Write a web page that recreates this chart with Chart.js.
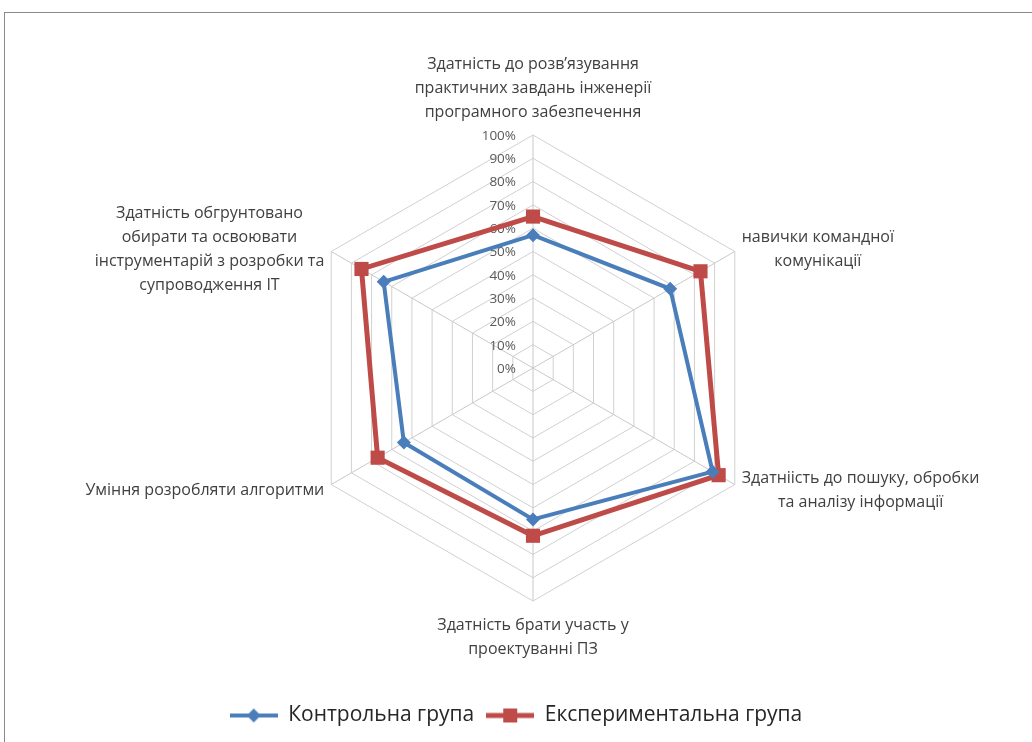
<!DOCTYPE html>
<html>
<head>
<meta charset="utf-8">
<script src="https://cdn.jsdelivr.net/npm/chart.js@4/dist/chart.umd.min.js"></script>
<style>
  html, body { margin: 0; padding: 0; background: #fff; overflow: hidden; }
  #frame { position: absolute; left: 4px; top: 12px; width: 1100px; height: 800px; border: 1px solid #8a8a8a; }
  #chart { position: absolute; left: 0; top: 0; }
</style>
</head>
<body>
<div id="frame"></div>
<canvas id="chart" width="1032" height="742"></canvas>
<script>
// axis names (clockwise from the top)
const categories = [
  ["Здатність до розв’язування", "практичних завдань інженерії", "програмного забезпечення"],
  ["навички командної", "комунікації"],
  ["Здатніість до пошуку, обробки", "та аналізу інформації"],
  ["Здатність брати участь у", "проектуванні ПЗ"],
  ["Уміння розробляти алгоритми"],
  ["Здатність обгрунтовано", "обирати та освоювати", "інструментарій з розробки та", "супроводження ІТ"]
];
const controlGroup = [57, 68, 89, 65, 64, 74];
const experimentalGroup = [65, 83, 92, 72, 77, 85];
const seriesNames = ["Контрольна група", "Експериментальна група"];
const tickValues = [0, 10, 20, 30, 40, 50, 60, 70, 80, 90, 100];

const blue = "#4a7ebb";
const red = "#be4b48";
const textFont = "'Open Sans', sans-serif";

// small picture for the legend: line with the marker in the middle
function legendSample(color, shape) {
  const c = document.createElement("canvas");
  c.width = 48; c.height = 16;
  const g = c.getContext("2d");
  g.strokeStyle = color; g.lineWidth = shape == "rect" ? 5 : 4;
  g.beginPath(); g.moveTo(0, 8); g.lineTo(48, 8); g.stroke();
  g.fillStyle = color;
  if (shape == "rect") {
    g.fillRect(17, 1, 14, 14);
  } else {
    g.beginPath(); g.moveTo(24, 1); g.lineTo(31, 8); g.lineTo(24, 15); g.lineTo(17, 8); g.closePath(); g.fill();
  }
  return c;
}
const samples = [legendSample(blue, "rectRot"), legendSample(red, "rect")];

// percent labels to the left of the top axis
const tickLabels = {
  id: "tickLabels",
  beforeDatasetsDraw(chart) {
    const s = chart.scales.r;
    const ctx = chart.ctx;
    ctx.save();
    ctx.font = "13.5px " + textFont;
    ctx.fillStyle = "#595959";
    ctx.textAlign = "right";
    ctx.textBaseline = "middle";
    tickValues.forEach(v => {
      const y = s.yCenter - s.getDistanceFromCenterForValue(v);
      ctx.fillText(v + "%", s.xCenter - 17, y + 1);
    });
    ctx.restore();
  }
};

// category labels placed like Excel does (side labels centred on the spoke end)
const axisLabels = {
  id: "axisLabels",
  afterDraw(chart) {
    const s = chart.scales.r;
    const ctx = chart.ctx;
    const lh = 24;
    ctx.save();
    ctx.font = "16px " + textFont;
    ctx.fillStyle = "#404040";
    ctx.textBaseline = "middle";
    ctx.textAlign = "center";
    categories.forEach((lines, i) => {
      const deg = Math.round(s.getIndexAngle(i) * 180 / Math.PI) % 360;
      const w = Math.max(...lines.map(l => ctx.measureText(l).width));
      const h = lines.length * lh;
      let cx, top;
      if (deg == 0) {
        const p = s.getPointPosition(i, s.drawingArea + 11);
        cx = p.x; top = p.y - h;
      } else if (deg == 180) {
        const p = s.getPointPosition(i, s.drawingArea + 12);
        cx = p.x; top = p.y;
      } else if (deg < 180) {
        const p = s.getPointPosition(i, s.drawingArea + 8);
        cx = p.x + w / 2; top = p.y - h / 2 + 2;
      } else {
        const p = s.getPointPosition(i, s.drawingArea + 8);
        cx = p.x - w / 2; top = p.y - h / 2 + 2;
      }
      lines.forEach((l, k) => ctx.fillText(l, cx, top + lh * k + lh / 2));
    });
    ctx.restore();
  }
};

new Chart(document.getElementById("chart"), {
  type: "radar",
  data: {
    labels: categories,
    datasets: [
      {
        label: seriesNames[0],
        data: controlGroup,
        borderColor: blue,
        backgroundColor: blue,
        borderWidth: 4,
        fill: false,
        pointStyle: "rectRot",
        pointRadius: 7,
        pointBackgroundColor: blue,
        pointBorderWidth: 0
      },
      {
        label: seriesNames[1],
        data: experimentalGroup,
        borderColor: red,
        backgroundColor: red,
        borderWidth: 5,
        fill: false,
        pointStyle: "rect",
        pointRadius: 10,
        pointBackgroundColor: red,
        pointBorderWidth: 0
      }
    ]
  },
  options: {
    responsive: false,
    animation: false,
    layout: { padding: { top: 20, bottom: 6, left: 20, right: 20 } },
    scales: {
      r: {
        min: 0,
        max: 100,
        ticks: { stepSize: 10, display: false },
        grid: { color: "#d0d0d0", lineWidth: 1 },
        angleLines: { color: "#c8c8c8", lineWidth: 1 },
        pointLabels: { display: false },
        afterFit(s) {
          // plot size and place as in the picture
          s.xCenter = 533;
          s.yCenter = 368;
          s.drawingArea = 233;
        }
      }
    },
    plugins: {
      tooltip: { enabled: false },
      legend: {
        position: "bottom",
        labels: {
          usePointStyle: true,
          pointStyleWidth: 48,
          padding: 12,
          color: "#262626",
          font: { family: textFont, size: 21 },
          generateLabels(chart) {
            return chart.data.datasets.map((d, i) => ({
              text: d.label,
              pointStyle: samples[i],
              fillStyle: d.borderColor,
              strokeStyle: d.borderColor,
              lineWidth: 0,
              hidden: false,
              datasetIndex: i,
              fontColor: "#262626"
            }));
          }
        }
      }
    }
  },
  plugins: [tickLabels, axisLabels]
});
</script>
</body>
</html>
